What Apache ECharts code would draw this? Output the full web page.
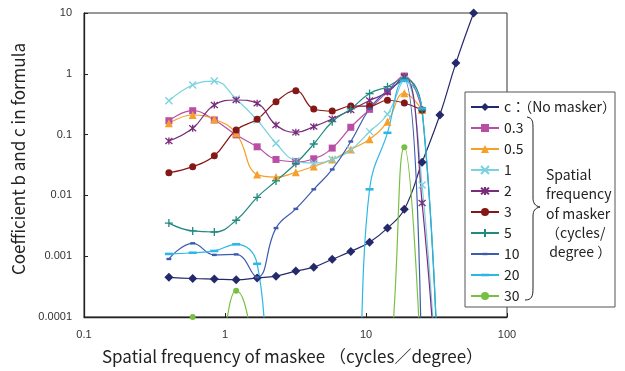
<!DOCTYPE html>
<html>
<head>
<meta charset="utf-8">
<script src="https://cdn.jsdelivr.net/npm/echarts@6/dist/echarts.min.js"></script>
<style>
  html, body { margin: 0; padding: 0; background: #fff; }
  #chart { width: 625px; height: 371px; }
</style>
</head>
<body>
<div id="chart"></div>
<script>
// spatial frequency of maskee (cycles/degree)
const freqs = [0.4, 0.59, 0.84, 1.2, 1.69, 2.3, 3.18, 4.26, 5.76, 7.8, 10.6, 14.2, 18.7, 25, 33.4, 43.4, 58];

// coefficient values, one array per masker frequency (values under 0.0001 fall off the chart)
const noMasker = [0.00045, 0.00043, 0.00042, 0.00041, 0.00044, 0.00047, 0.00057, 0.00066, 0.00089, 0.0012, 0.0017, 0.0029, 0.0059, 0.035, 0.21, 1.5, 10];
const m03 = [0.169, 0.247, 0.174, 0.099, 0.063, 0.039, 0.036, 0.040, 0.060, 0.132, 0.26, 0.51, 0.92, 0.25, null, null, null];
const m05 = [0.153, 0.21, 0.179, 0.105, 0.022, 0.020, 0.024, 0.030, 0.039, 0.057, 0.084, 0.163, 0.48, 0.254, null, null, null];
const m1 = [0.36, 0.655, 0.76, 0.385, 0.174, 0.072, 0.037, 0.034, 0.039, 0.056, 0.112, 0.216, 0.80, 0.0148, 0.000001, null, null];
const m2 = [0.0785, 0.127, 0.307, 0.371, 0.327, 0.144, 0.109, 0.135, 0.181, 0.254, 0.364, 0.50, 0.90, 0.0075, 0.000001, null, null];
const m3 = [0.0236, 0.0297, 0.045, 0.119, 0.179, 0.348, 0.527, 0.264, 0.244, 0.295, 0.295, 0.367, 0.331, 0.254, null, null, null];
const m5 = [0.0035, 0.0026, 0.0025, 0.0039, 0.0093, 0.0173, 0.0335, 0.070, 0.163, 0.264, 0.474, 0.614, 0.844, 0.25, 0.000001, null, null];
const m10 = [0.0009, 0.00163, 0.00105, 0.00107, 0.00045, 0.0029, 0.0060, 0.0126, 0.0267, 0.077, 0.266, 0.53, 0.79, 0.000003, null, null, null];
const m20 = [0.00109, 0.00114, 0.00122, 0.00157, 0.00075, 0.000001, 0.000001, 0.000001, 0.000001, 0.000001, 0.0126, 0.107, 0.776, 0.269, 0.000001, null, null];
const m30 = [null, 0.0001, 0.00002, 0.00027, 0.00002, 0.000001, 0.000001, 0.000001, 0.000001, 0.000001, 0.000001, 0.000006, 0.062, 0.000006, null, null, null];

const seriesNames = ['c：（No masker）', '0.3', '0.5', '1', '2', '3', '5', '10', '20', '30'];
const xTickLabels = ['0.1', '1', '10', '100'];
const yTickLabels = ['0.0001', '0.001', '0.01', '0.1', '1', '10'];
const braceLines = ['Spatial', 'frequency', 'of masker', '（cycles/', ' degree ）'];

const JP = '"Noto Sans CJK JP", "Noto Sans", sans-serif';

function pairs(vals) {
  const out = [];
  vals.forEach((v, i) => { if (v != null) out.push([freqs[i], v]); });
  return out;
}

function line(name, vals, color, symbol, size, stroke) {
  return {
    name: name,
    type: 'line',
    data: pairs(vals),
    smooth: 0.45,
    symbol: symbol,
    symbolSize: size,
    showAllSymbol: true,
    lineStyle: { color: color, width: 1.2 },
    itemStyle: stroke
      ? { color: color, borderColor: color, borderWidth: 1.3 }
      : { color: color, borderWidth: 0 },
    emphasis: { disabled: true },
  };
}

const CROSS = 'path://M0,0L10,10M10,0L0,10';
const STAR = 'path://M0,0L10,10M10,0L0,10M5,-1L5,11';
const PLUS = 'path://M5,0L5,10M0,5L10,5';
// dashes kept inside a square box so the legend icon stays a dash
const DASH_S = 'path://M0,0M2,3.5L8,3.5L8,6.5L2,6.5ZM10,10';
const DASH_L = 'path://M0,0M0,3.4L10,3.4L10,6.6L0,6.6ZM10,10';

// curly brace beside the legend, drawn as curve pieces
const braceStyle = { fill: 'none', stroke: '#222', lineWidth: 1 };
function curve(x1, y1, cx1, cy1, cx2, cy2, x2, y2) {
  return { type: 'bezierCurve', z: 55, shape: { x1, y1, cpx1: cx1, cpy1: cy1, cpx2: cx2, cpy2: cy2, x2, y2 }, style: braceStyle };
}
function seg(x1, y1, x2, y2) {
  return { type: 'line', z: 55, shape: { x1, y1, x2, y2 }, style: braceStyle };
}

const chart = echarts.init(document.getElementById('chart'));

chart.setOption({
  animation: false,
  backgroundColor: '#fff',
  grid: {
    left: 84, right: 118, top: 13, bottom: 54,
    show: true, borderColor: '#333', borderWidth: 1,
  },
  xAxis: {
    type: 'log', logBase: 10, min: 0.1, max: 100,
    name: 'Spatial frequency of maskee （cycles／degree）',
    nameLocation: 'middle', nameGap: 31,
    nameTextStyle: { fontFamily: JP, fontSize: 17, color: '#222', padding: [0, 6, 0, 0] },
    axisLine: { lineStyle: { color: '#222', width: 1.3 } },
    axisTick: { inside: true, length: 4, lineStyle: { color: '#222' } },
    axisLabel: {
      margin: 12, fontSize: 11, color: '#333', fontFamily: 'Liberation Sans, Arial',
      formatter: v => xTickLabels[Math.round(Math.log10(v)) + 1],
    },
    splitLine: { show: false },
  },
  yAxis: {
    type: 'log', logBase: 10, min: 0.0001, max: 10,
    name: 'Coefficient b and c in formula',
    nameLocation: 'middle', nameGap: 52,
    nameTextStyle: { fontFamily: JP, fontSize: 17, color: '#222', padding: [0, 0, 0, 12] },
    axisLine: { lineStyle: { color: '#222', width: 1.3 } },
    axisTick: { inside: true, length: 4, lineStyle: { color: '#222' } },
    axisLabel: {
      margin: 12, fontSize: 11, color: '#333', fontFamily: 'Liberation Sans, Arial',
      formatter: v => yTickLabels[Math.round(Math.log10(v)) + 4],
    },
    splitLine: { show: false },
  },
  legend: {
    orient: 'vertical', left: 470, top: 100, padding: 0,
    itemWidth: 28, itemHeight: 10, itemGap: 7,
    z: 60,
    selectedMode: false,
    textStyle: { fontFamily: JP, fontSize: 14, color: '#222', lineHeight: 14 },
    data: seriesNames,
  },
  graphic: [
    {
      type: 'rect', z: 50,
      shape: { x: 465, y: 92, width: 150, height: 215 },
      style: { fill: '#fff', stroke: '#555', lineWidth: 1 },
    },
    curve(527, 117, 533, 118, 533, 122, 533, 130),
    seg(533, 130, 533, 198),
    curve(533, 198, 533, 203, 535, 206, 540, 207),
    curve(540, 207, 535, 208, 533, 211, 533, 216),
    seg(533, 216, 533, 288),
    curve(533, 288, 533, 296, 532, 300, 525, 300),
    {
      type: 'text', z: 55, left: 546, top: 165,
      style: {
        text: braceLines.join('\n'),
        font: '14px "Noto Sans CJK JP"',
        lineHeight: 19.3,
        fill: '#222',
      },
    },
  ],
  series: [
    line(seriesNames[0], noMasker, '#24296b', 'diamond', 9, false),
    line(seriesNames[1], m03, '#b94fa4', 'rect', 7, false),
    line(seriesNames[2], m05, '#f6a02a', 'triangle', 8, false),
    line(seriesNames[3], m1, '#78d2df', CROSS, 7, true),
    line(seriesNames[4], m2, '#7a2c7c', STAR, 7, true),
    line(seriesNames[5], m3, '#861717', 'circle', 7, false),
    line(seriesNames[6], m5, '#1e8a80', PLUS, 8, true),
    line(seriesNames[7], m10, '#3d5caf', DASH_S, 8, false),
    line(seriesNames[8], m20, '#2db7e6', DASH_L, 8, false),
    line(seriesNames[9], m30, '#78c043', 'circle', 6, false),
  ],
});
</script>
</body>
</html>
